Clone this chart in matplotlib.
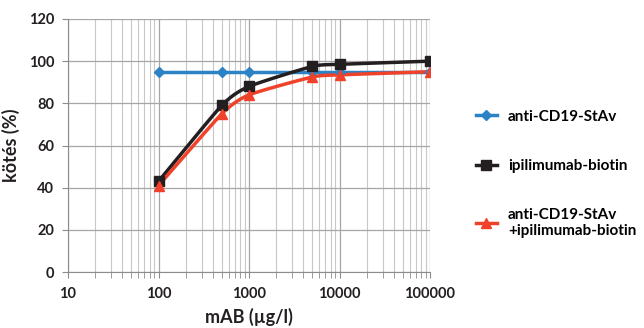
import numpy as np
import matplotlib
matplotlib.use("Agg")
import matplotlib.pyplot as plt
from matplotlib.ticker import LogLocator, FixedLocator, NullFormatter

plt.rcParams['font.family'] = ['Lato', 'DejaVu Sans']

conc = [100, 500, 1000, 5000, 10000, 100000]
stav = [95, 95, 95, 95, 95, 95]
ipi = [43, 79, 88, 97.5, 98.5, 100]
combo = [41, 75, 84, 92.5, 93.5, 95]

names = ["anti-CD19-StAv", "ipilimumab-biotin", "anti-CD19-StAv\n+ipilimumab-biotin"]
colors = ["#2b83c6", "#231f20", "#f0412a"]
markers = ["D", "s", "^"]
msizes = [5.5, 7, 7]


def smooth(x, y, n=30):
    # Catmull-Rom curve through the points, in log-x space (like Excel smoothing)
    lx = np.log10(x)
    y = np.asarray(y, float)
    px = np.concatenate([[2 * lx[0] - lx[1]], lx, [2 * lx[-1] - lx[-2]]])
    py = np.concatenate([[2 * y[0] - y[1]], y, [2 * y[-1] - y[-2]]])
    xs, ys = [], []
    t = np.linspace(0, 1, n)
    for i in range(1, len(px) - 2):
        for p, out in ((px, xs), (py, ys)):
            p0, p1, p2, p3 = p[i - 1], p[i], p[i + 1], p[i + 2]
            m1 = (p2 - p0) / 2 * 0.6
            m2 = (p3 - p1) / 2 * 0.6
            h00 = 2 * t**3 - 3 * t**2 + 1
            h10 = t**3 - 2 * t**2 + t
            h01 = -2 * t**3 + 3 * t**2
            h11 = t**3 - t**2
            out.extend(h00 * p1 + h10 * m1 + h01 * p2 + h11 * m2)
    return 10 ** np.array(xs), np.array(ys)


fig = plt.figure(figsize=(6.44, 3.28), dpi=100)
ax = fig.add_axes([68 / 644, 1 - 272 / 328, (430 - 68) / 644, (272 - 19) / 328])

handles = []
for ys, c, m, s, nm in zip([stav, ipi, combo], colors, markers, msizes, names):
    sx, sy = smooth(conc, ys)
    ax.plot(sx, sy, color=c, lw=2.5, zorder=3)
    ax.plot(conc, ys, ls="none", marker=m, color=c, ms=s, zorder=4)
    h, = ax.plot([], [], color=c, lw=2.5, marker=m, ms=s, label=nm)
    handles.append(h)

ax.set_xscale("log")
ax.set_xlim(10, 100000)
ax.set_ylim(0, 120)
ax.yaxis.set_major_locator(FixedLocator(range(0, 121, 20)))
ax.xaxis.set_minor_locator(LogLocator(base=10, subs=np.arange(2, 10), numticks=10))
ax.xaxis.set_minor_formatter(NullFormatter())
ax.set_xticks([10, 100, 1000, 10000, 100000])
ax.set_xticklabels(["10", "100", "1000", "10000", "100000"])

ax.grid(True, which="major", color="#a6a6a6", lw=0.9)
ax.grid(True, which="minor", axis="x", color="#c8c8c8", lw=0.8)
ax.set_axisbelow(True)
for s in ["top", "right"]:
    ax.spines[s].set_visible(False)
for s in ["left", "bottom"]:
    ax.spines[s].set_color("#8c8c8c")
ax.tick_params(axis="both", which="both", color="#8c8c8c", length=4, labelsize=10.5)
ax.tick_params(axis="x", which="major", pad=7)
ax.tick_params(axis="y", which="major", pad=6)
for lab in ax.get_xticklabels() + ax.get_yticklabels():
    lab.set_fontweight("bold")
    lab.set_color("#231f20")

ax.set_xlabel("mAB (µg/l)", fontsize=13, fontweight="bold", labelpad=5, color="#231f20")
ax.set_ylabel("kötés (%)", fontsize=13, fontweight="bold", labelpad=6, color="#231f20")

fig.legend(handles=handles, loc="center left", bbox_to_anchor=(462 / 644, 1 - 174 / 328),
           frameon=False, labelspacing=2.3, handlelength=1.4, handletextpad=0.7,
           prop={"weight": "bold", "size": 11})

fig.savefig("out.png", dpi=100)
